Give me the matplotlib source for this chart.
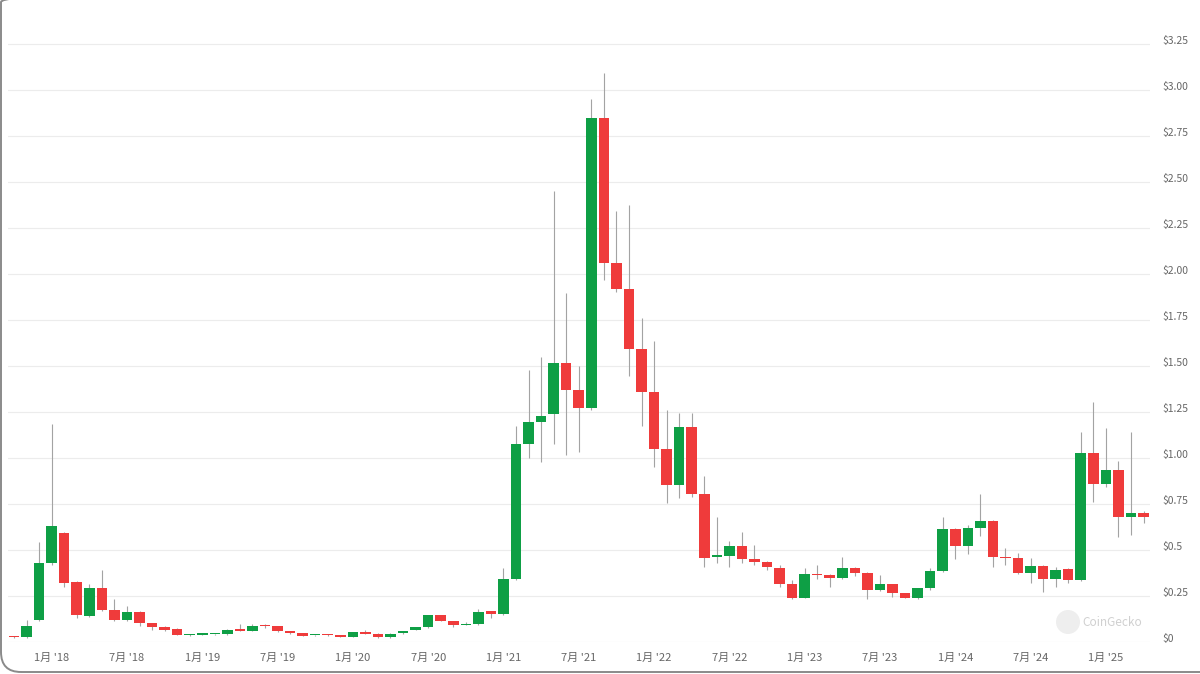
import matplotlib
matplotlib.use("Agg")
import matplotlib.pyplot as plt
from matplotlib.patches import FancyBboxPatch, Circle
from matplotlib.transforms import ScaledTranslation

# ---------------- data (monthly OHLC, Oct 2017 .. Apr 2025) ----------------
months = [f"{y}-{m:02d}" for y in range(2017, 2026) for m in range(1, 13)][9:9 + 91]

opens = [0.026, 0.025, 0.12, 0.428, 0.59, 0.325, 0.141, 0.295, 0.174, 0.12,
         0.165, 0.101, 0.083, 0.068, 0.038, 0.040, 0.041, 0.042, 0.065, 0.060,
         0.087, 0.087, 0.060, 0.047, 0.036, 0.039, 0.034, 0.029, 0.053, 0.045,
         0.025, 0.047, 0.065, 0.080, 0.145, 0.114, 0.092, 0.096, 0.168, 0.150,
         0.34, 1.074, 1.197, 1.24, 1.515, 1.37, 1.27, 2.85, 2.062, 1.917,
         1.59, 1.357, 1.047, 0.853, 1.167, 0.804, 0.46, 0.467, 0.522, 0.45,
         0.437, 0.404, 0.313, 0.241, 0.37, 0.364, 0.346, 0.404, 0.373, 0.283,
         0.313, 0.264, 0.241, 0.292, 0.386, 0.612, 0.524, 0.618, 0.66, 0.46,
         0.455, 0.377, 0.413, 0.344, 0.395, 0.337, 1.029, 0.859, 0.935, 0.678,
         0.703]
highs = [0.030, 0.12, 0.545, 1.185, 0.60, 0.33, 0.313, 0.389, 0.234, 0.197,
         0.168, 0.105, 0.085, 0.075, 0.042, 0.042, 0.043, 0.068, 0.098, 0.098,
         0.100, 0.089, 0.062, 0.049, 0.040, 0.041, 0.036, 0.056, 0.065, 0.047,
         0.047, 0.062, 0.082, 0.147, 0.148, 0.116, 0.110, 0.178, 0.170, 0.40,
         1.174, 1.478, 1.55, 2.45, 1.895, 1.50, 2.95, 3.09, 2.34, 2.375,
         1.76, 1.638, 1.26, 1.243, 1.243, 0.902, 0.68, 0.55, 0.60, 0.527,
         0.44, 0.42, 0.337, 0.40, 0.418, 0.37, 0.464, 0.41, 0.38, 0.364,
         0.316, 0.267, 0.295, 0.40, 0.68, 0.62, 0.636, 0.804, 0.665, 0.51,
         0.486, 0.455, 0.42, 0.41, 0.40, 1.143, 1.306, 1.161, 0.984, 1.143,
         0.71]
lows = [0.020, 0.02, 0.115, 0.42, 0.297, 0.13, 0.135, 0.17, 0.115, 0.115,
        0.087, 0.065, 0.06, 0.036, 0.033, 0.036, 0.037, 0.040, 0.058, 0.058,
        0.078, 0.055, 0.045, 0.033, 0.034, 0.035, 0.028, 0.028, 0.044, 0.022,
        0.024, 0.045, 0.063, 0.078, 0.112, 0.083, 0.090, 0.094, 0.129, 0.148,
        0.335, 1.0, 0.98, 1.074, 1.016, 1.03, 1.26, 1.967, 1.90, 1.446,
        1.176, 0.95, 0.754, 0.78, 0.79, 0.41, 0.43, 0.41, 0.43, 0.42,
        0.39, 0.30, 0.235, 0.238, 0.34, 0.297, 0.34, 0.36, 0.232, 0.275,
        0.243, 0.24, 0.235, 0.285, 0.38, 0.45, 0.478, 0.576, 0.41, 0.418,
        0.37, 0.319, 0.274, 0.30, 0.32, 0.33, 0.763, 0.84, 0.572, 0.58,
        0.645]
closes = [0.025, 0.087, 0.428, 0.63, 0.322, 0.147, 0.295, 0.174, 0.12, 0.165,
          0.101, 0.083, 0.065, 0.038, 0.040, 0.041, 0.042, 0.065, 0.060, 0.087,
          0.085, 0.060, 0.047, 0.034, 0.039, 0.037, 0.029, 0.054, 0.045, 0.025,
          0.045, 0.060, 0.080, 0.145, 0.114, 0.092, 0.096, 0.165, 0.150, 0.34,
          1.074, 1.194, 1.228, 1.515, 1.37, 1.27, 2.85, 2.062, 1.917, 1.59,
          1.357, 1.047, 0.853, 1.167, 0.804, 0.455, 0.473, 0.522, 0.45, 0.437,
          0.406, 0.313, 0.237, 0.37, 0.364, 0.346, 0.404, 0.377, 0.283, 0.313,
          0.264, 0.241, 0.292, 0.386, 0.612, 0.524, 0.618, 0.66, 0.46, 0.455,
          0.377, 0.415, 0.344, 0.391, 0.337, 1.029, 0.859, 0.935, 0.678, 0.703,
          0.678]

y_ticks = [0, 0.25, 0.5, 0.75, 1.0, 1.25, 1.5, 1.75, 2.0, 2.25, 2.5, 2.75, 3.0, 3.25]
y_labels = ["$0", "$0.25", "$0.5", "$0.75", "$1.00", "$1.25", "$1.50", "$1.75",
            "$2.00", "$2.25", "$2.50", "$2.75", "$3.00", "$3.25"]
x_tick_months = ["2018-01", "2018-07", "2019-01", "2019-07", "2020-01", "2020-07",
                 "2021-01", "2021-07", "2022-01", "2022-07", "2023-01", "2023-07",
                 "2024-01", "2024-07", "2025-01"]
x_tick_labels = ["1月 '18", "7月 '18", "1月 '19", "7月 '19", "1月 '20", "7月 '20",
                 "1月 '21", "7月 '21", "1月 '22", "7月 '22", "1月 '23", "7月 '23",
                 "1月 '24", "7月 '24", "1月 '25"]

# ---------------- figure ----------------
plt.rcParams['font.family'] = ['Noto Sans CJK SC', 'DejaVu Sans']
W, H = 1200, 674
fig = plt.figure(figsize=(12, 6.74), dpi=100)
fig.patch.set_facecolor("white")

# axes placement in pixels
left_px, right_px = 8, 1150
bottom_px = H - 642
ymax = 3.35
top_px = bottom_px + 184 * ymax
ax = fig.add_axes([left_px / W, bottom_px / H, (right_px - left_px) / W, (top_px - bottom_px) / H])

GREEN = "#0e9f45"
RED = "#ef3b3b"
WICK = "#a3a3a3"

xs = list(range(len(months)))
for x, o, h, l, c in zip(xs, opens, highs, lows, closes):
    up = c >= o
    col = GREEN if up else RED
    ax.vlines(x, l, h, color=WICK, linewidth=0.8, zorder=2)
    lo_b = min(o, c)
    hgt = max(abs(c - o), 0.008)
    ax.bar(x, hgt, bottom=lo_b, width=0.84, color=col, linewidth=0, zorder=3)

ax.set_xlim((left_px - 14) / 12.55, (right_px - 14) / 12.55)
ax.set_ylim(0, ymax)

for sp in ax.spines.values():
    sp.set_visible(False)

ax.set_yticks(y_ticks)
ax.set_yticklabels(y_labels)
ax.yaxis.tick_right()
ax.tick_params(axis='y', length=0, pad=9, labelsize=7.5, labelcolor="#666666")
for lab in ax.get_yticklabels():
    lab.set_horizontalalignment('left')
    lab.set_transform(lab.get_transform() + ScaledTranslation(0, 3 / 72, fig.dpi_scale_trans))
ax.grid(axis='y', color="#ececec", linewidth=0.8, zorder=0)
ax.set_axisbelow(True)

ax.set_xticks([months.index(m) for m in x_tick_months])
ax.set_xticklabels(x_tick_labels)
ax.tick_params(axis='x', length=0, pad=8, labelsize=8, labelcolor="#666666")

# watermark
circ = Circle((1068, H - 622), 12, transform=None, facecolor="#eeeeee", edgecolor="none", zorder=1)
fig.patches.append(circ)
fig.text(1082 / W, (H - 622) / H, "CoinGecko", fontsize=8.5, color="#d0d0d0",
         va='center', ha='left', family=['Noto Sans CJK SC', 'DejaVu Sans'])

# card border (screenshot frame)
frame = FancyBboxPatch((1, 2), 1230, 690, boxstyle="round,pad=0,rounding_size=20",
                       transform=None, facecolor="none", edgecolor="#8a8a8a", linewidth=1.4)
fig.patches.append(frame)

fig.savefig("out.png", dpi=100, facecolor="white")
